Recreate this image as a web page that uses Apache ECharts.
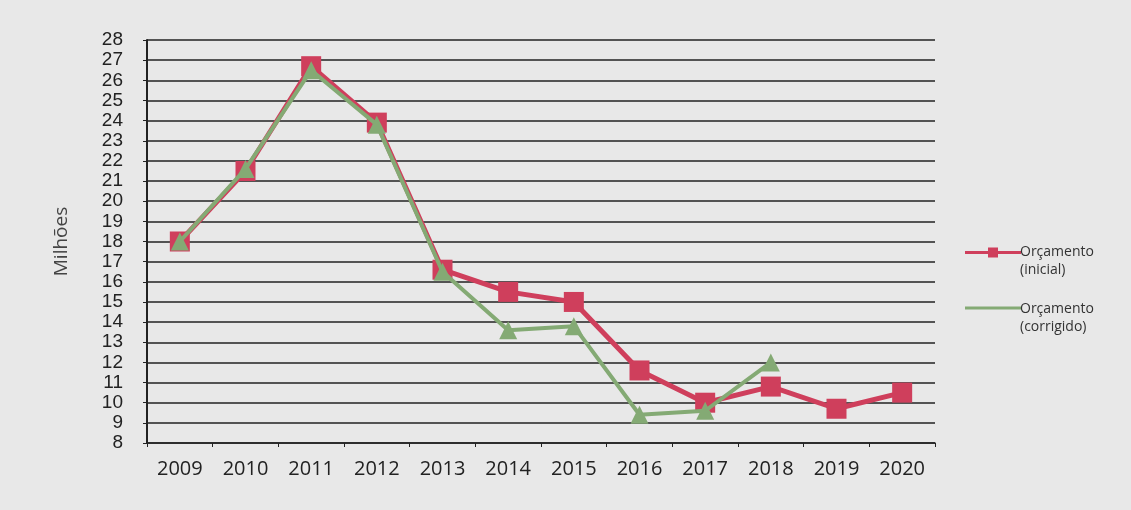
<!DOCTYPE html>
<html><head><meta charset="utf-8">
<script src="https://cdn.jsdelivr.net/npm/echarts@6/dist/echarts.min.js"></script>
<style>html,body{margin:0;padding:0;background:#e8e8e8}#c{width:1131px;height:510px}</style>
</head><body><div id="c"></div>
<script>
var years = ['2009','2010','2011','2012','2013','2014','2015','2016','2017','2018','2019','2020'];
var inicial = [18.0, 21.5, 26.7, 23.9, 16.6, 15.5, 15.0, 11.6, 10.0, 10.8, 9.7, 10.5];
var corrigido = [18.0, 21.6, 26.5, 23.8, 16.5, 13.6, 13.8, 9.4, 9.6, 12.0, null, null];
var seriesNames = ['Orçamento\n(inicial)', 'Orçamento\n(corrigido)'];

var chart = echarts.init(document.getElementById('c'));
chart.setOption({
  backgroundColor: '#e8e8e8',
  animation: false,
  grid: {left: 147, right: 196, top: 40, bottom: 67},
  legend: {
    orient: 'vertical', left: 960, top: 238, itemGap: 21,
    itemWidth: 56, itemHeight: 36,
    textStyle: {fontFamily: 'Open Sans', fontSize: 14, color: '#333', lineHeight: 18, padding: [0, 0, 0, -6]},
    data: [
      {name: seriesNames[0], icon: 'path://M0,0H0.01V0.01H0Z M0,8H56V11H0Z M23,4.5H33V14.5H23Z M0,35.99H0.01V36H0Z', itemStyle: {color: '#cf3f5c'}},
      {name: seriesNames[1], icon: 'path://M0,0H0.01V0.01H0Z M0,6.5H56V9.5H0Z M0,35.99H0.01V36H0Z', itemStyle: {color: '#84aa74'}}
    ]
  },
  xAxis: {
    type: 'category', data: years, boundaryGap: true,
    axisLine: {lineStyle: {color: '#222', width: 1.5}},
    axisTick: {show: true, length: 4, lineStyle: {color: '#222'}},
    axisLabel: {fontFamily: 'Open Sans', fontSize: 20, color: '#222', margin: 16}
  },
  yAxis: {
    type: 'value', min: 8, max: 28, interval: 1,
    name: 'Milhões', nameLocation: 'middle', nameGap: 76,
    nameTextStyle: {fontFamily: 'Open Sans', fontSize: 19, color: '#444'},
    axisLine: {show: true, lineStyle: {color: '#222', width: 2}},
    axisTick: {show: true, length: 4, lineStyle: {color: '#222'}},
    axisLabel: {fontFamily: 'Liberation Sans Narrow, Liberation Sans', fontSize: 19, color: '#222', margin: 24,
                showMinLabel: true, showMaxLabel: true, hideOverlap: false},
    splitLine: {lineStyle: {color: '#222', width: 1.6}}
  },
  series: [
    {name: seriesNames[0], type: 'line', data: inicial,
     symbol: 'rect', symbolSize: 20,
     itemStyle: {color: '#cf3f5c'},
     lineStyle: {color: '#cf3f5c', width: 5}, z: 2},
    {name: seriesNames[1], type: 'line', data: corrigido,
     symbol: 'triangle', symbolSize: 18, connectNulls: false,
     itemStyle: {color: '#84aa74'},
     lineStyle: {color: '#84aa74', width: 4}, z: 3}
  ]
});
</script></body></html>
